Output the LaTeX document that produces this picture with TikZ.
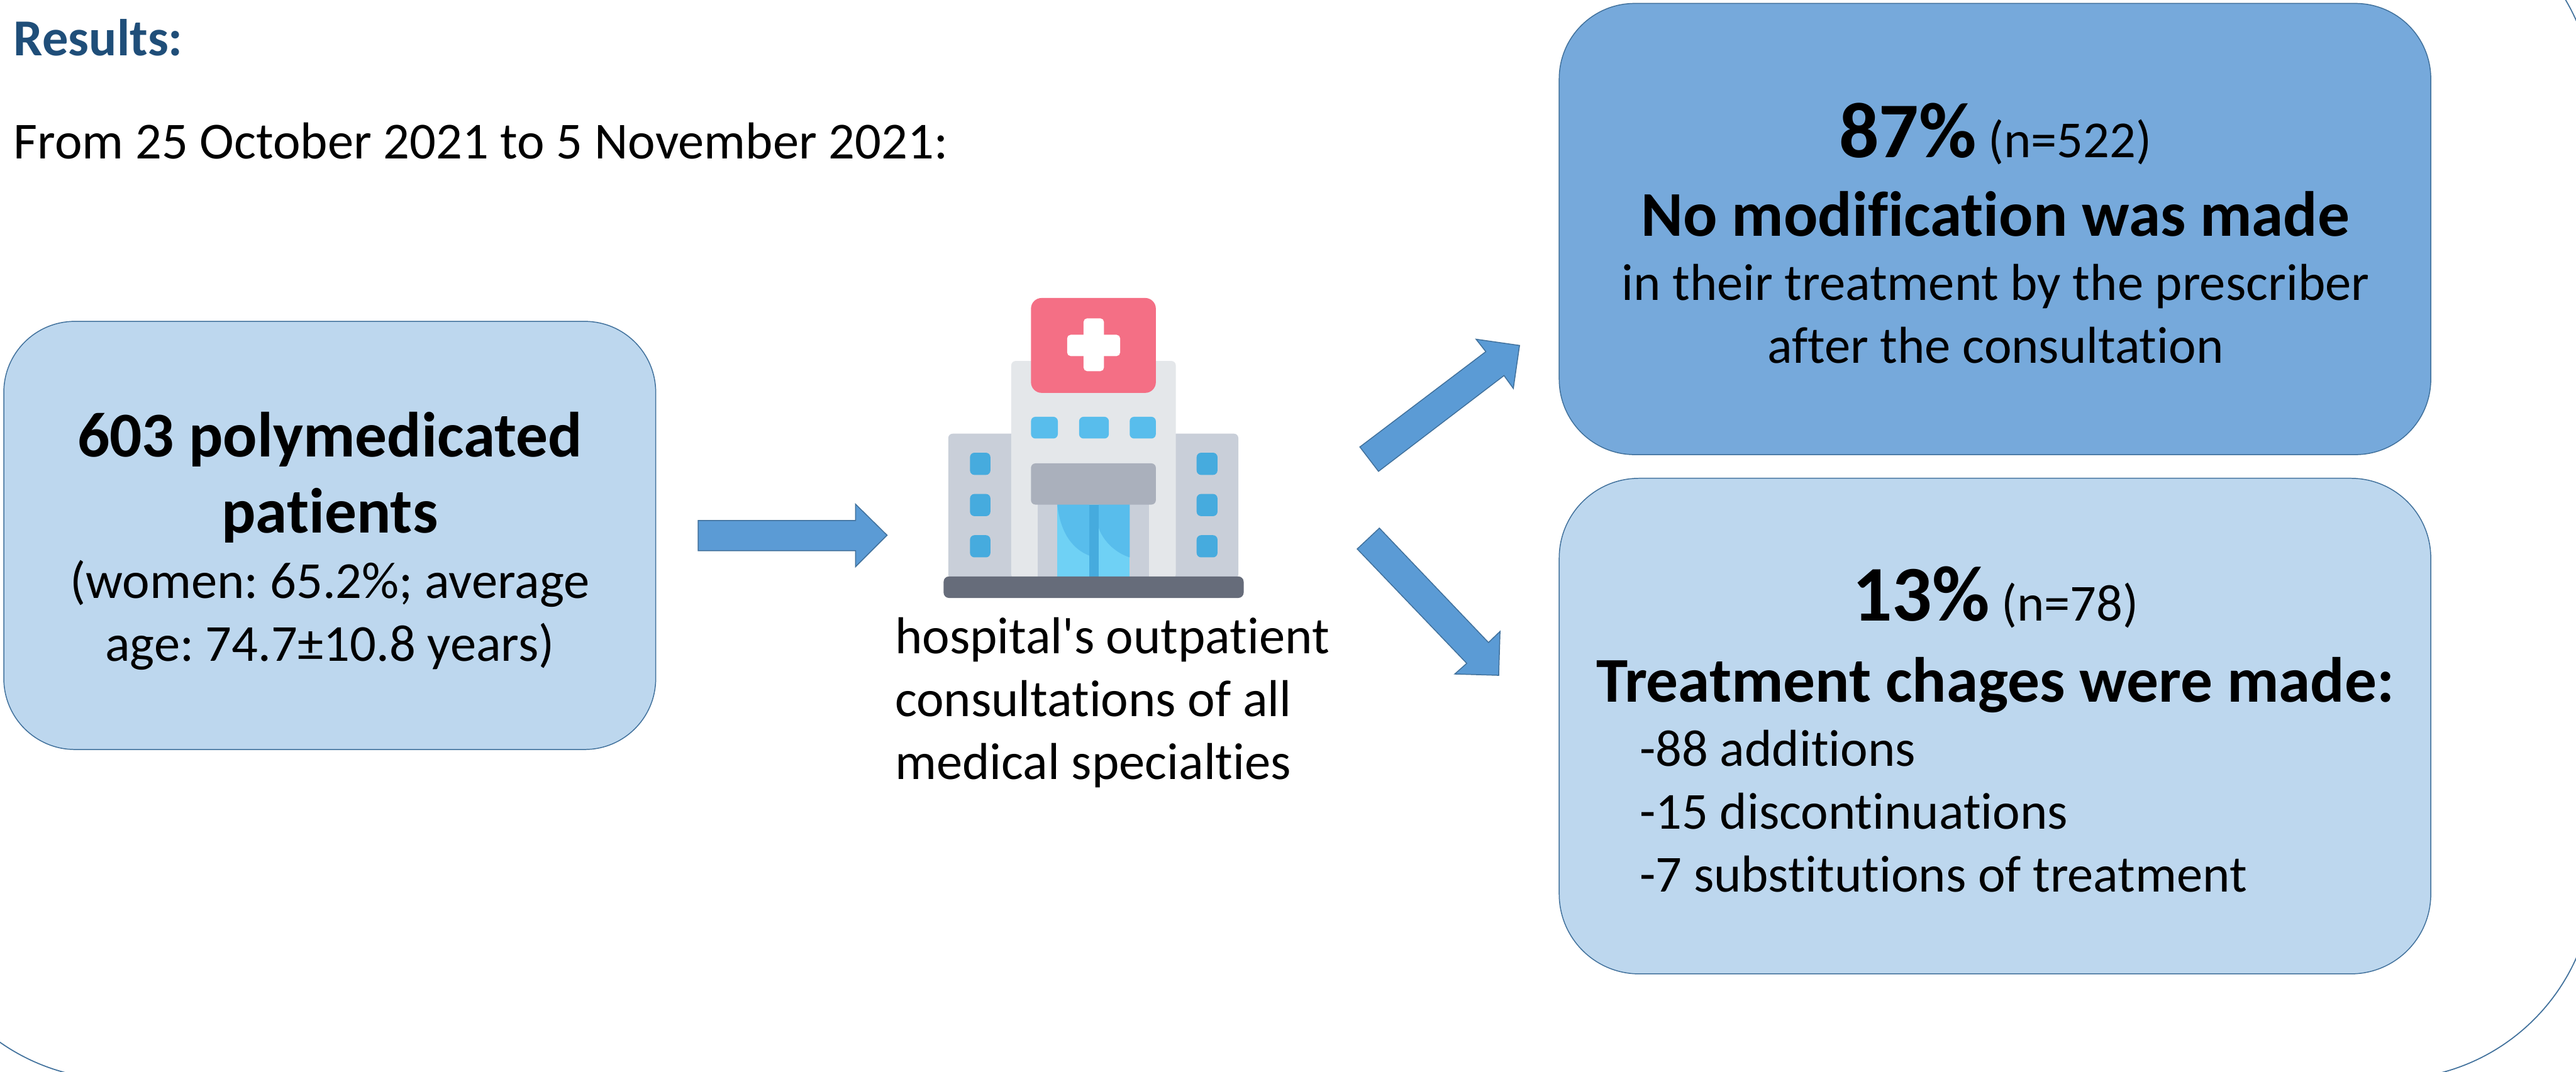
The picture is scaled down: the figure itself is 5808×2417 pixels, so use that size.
\documentclass[tikz,border=0pt]{standalone}
\usepackage{fontspec}
\setmainfont{Carlito}[Ligatures=NoCommon]
\newfontfamily\plainfont{Carlito}[Ligatures=NoCommon]
\newcommand{\fs}[2]{\fontsize{#1}{#2}\selectfont}
\frenchspacing
\definecolor{lightbox}{HTML}{BDD7EE}
\definecolor{midbox}{HTML}{76A9DB}
\definecolor{arrowfill}{HTML}{5B9BD5}
\definecolor{edgeblue}{HTML}{41719C}
\definecolor{headblue}{HTML}{1F4E79}
\definecolor{signred}{HTML}{F46F85}
\definecolor{wallpale}{HTML}{E4E7EA}
\definecolor{wallgrey}{HTML}{C9CFD9}
\definecolor{canopy}{HTML}{AAB0BC}
\definecolor{basegrey}{HTML}{666C7A}
\definecolor{winlight}{HTML}{58BDEC}
\definecolor{windark}{HTML}{46ABDE}
\definecolor{doorlight}{HTML}{6FD1F5}
\tikzset{
  roundbox/.style={draw=edgeblue,line width=0.6pt,rectangle,inner sep=0pt,outer sep=0pt},
  blockarrow/.style={fill=arrowfill,draw=edgeblue,line width=0.6pt,line join=miter},
  body/.style={inner sep=0pt,outer sep=0pt,text=black,font=\fs{33.3}{40.26}\frenchspacing},
  head/.style={inner sep=0pt,outer sep=0pt,text=black,font=\fs{40.9}{48.65}\bfseries\frenchspacing},
  icon/.style={draw=none,rounded corners=#1},
  icon/.default=0.1cm
}
\begin{document}
\begin{tikzpicture}[x=0.01cm,y=-0.01cm]
\useasboundingbox (0,0) rectangle (5808,2417);
\clip (0,0) rectangle (5808,2417);
% outer frame
\draw[edgeblue,line width=0.7pt,rounded corners=4.6cm] (-196,-227) rectangle (5848,2434);
% boxes
\node[roundbox,fill=lightbox,rounded corners=1.6cm,minimum width=14.69cm,minimum height=9.65cm] (patients) at (743.5,1207.5) {};
\node[roundbox,fill=midbox,rounded corners=1.7cm,minimum width=19.64cm,minimum height=10.17cm] (nomod) at (4498,516.5) {};
\node[roundbox,fill=lightbox,rounded corners=1.8cm,minimum width=19.64cm,minimum height=11.17cm] (changes) at (4498,1637.5) {};
% arrows
\draw[blockarrow] (1574,1174) -- (1929,1174) -- (1929,1137) -- (2000,1207) -- (1929,1278) -- (1929,1242) -- (1574,1242) -- cycle;
\draw[blockarrow] (3066,1008) -- (3350,793) -- (3328,765) -- (3426,779) -- (3412,876) -- (3391,847) -- (3108,1063) -- cycle;
\draw[blockarrow] (3110,1191) -- (3356,1449) -- (3382,1424) -- (3379,1523) -- (3280,1520) -- (3307,1496) -- (3060,1238) -- cycle;
% hospital icon
\fill[wallgrey,icon] (2138,978) rectangle (2300,1305);
\fill[wallgrey,icon] (2630,978) rectangle (2792,1305);
\fill[wallpale,icon] (2280,814) rectangle (2651,1305);
\fill[signred,icon=0.24cm] (2324.5,672) rectangle (2606,886);
\fill[white,icon=0.08cm] (2406,755) rectangle (2525.5,803);
\fill[white,icon=0.08cm] (2443,718) rectangle (2489,837);
\fill[winlight,icon] (2324.5,940) rectangle (2385,989);
\fill[winlight,icon] (2433,940) rectangle (2500,989);
\fill[winlight,icon] (2547,940) rectangle (2606,989);
\foreach \wy in {1021,1114,1207}{
  \fill[windark,icon] (2187,\wy) rectangle (2233,\wy+50);
  \fill[windark,icon] (2698,\wy) rectangle (2745,\wy+50);
}
\fill[wallgrey] (2340,1130) rectangle (2591,1305);
\fill[doorlight] (2384,1130) rectangle (2547,1305);
\fill[winlight] (2384,1130) -- (2456,1130) -- (2456,1253) .. controls (2410,1235) and (2390,1190) .. (2384,1140) -- cycle;
\fill[winlight] (2477,1130) -- (2547,1130) -- (2547,1257) .. controls (2510,1245) and (2485,1215) .. (2477,1190) -- cycle;
\fill[canopy,icon] (2324.5,1045) rectangle (2606,1138);
\fill[windark] (2456,1138) rectangle (2477,1305);
\fill[basegrey,icon=0.12cm] (2127.5,1300) rectangle (2804,1348.5);
% text
\node[inner sep=0pt,outer sep=0pt,anchor=base west,text=headblue,font=\fs{33.3}{40.26}\bfseries] (results) at (31,126) {Results:};
\node[body,anchor=base west] (dates) at (31,358) {From 25 October 2021 to 5 November 2021:};
\node[head,anchor=base,align=center] (ptitle) at (743.5,1201) {603 polymedicated\\patients};
\node[body,anchor=base,align=center] (pdetail) at (743.5,1491) {(women: 65.2\%; average\\age: 74.7±10.8 years)};
\node[body,anchor=base west,align=left] (hosp) at (2018,1757) {hospital{\plainfont\symbol{39}}s outpatient\\consultations of all\\medical specialties};
\node[inner sep=0pt,outer sep=0pt,anchor=base] (pct1) at (4499,355) {\fs{50.6}{60}\bfseries 87\%\fs{33.3}{40}\mdseries{} (n=522)};
\node[head,anchor=base] (nomodt) at (4499,532) {No modification was made};
\node[body,anchor=base,align=center] (nomodd) at (4499,819) {in their treatment by the prescriber\\after the consultation};
\node[inner sep=0pt,outer sep=0pt,anchor=base] (pct2) at (4499,1400) {\fs{50.6}{60}\bfseries 13\%\fs{33.3}{40}\mdseries{} (n=78)};
\node[head,anchor=base] (changest) at (4499,1583) {Treatment chages were made:};
\node[body,anchor=base west,align=left] (changesd) at (3697,2011) {-88 additions\\-15 discontinuations\\-7 substitutions of treatment};
\end{tikzpicture}
\end{document}
